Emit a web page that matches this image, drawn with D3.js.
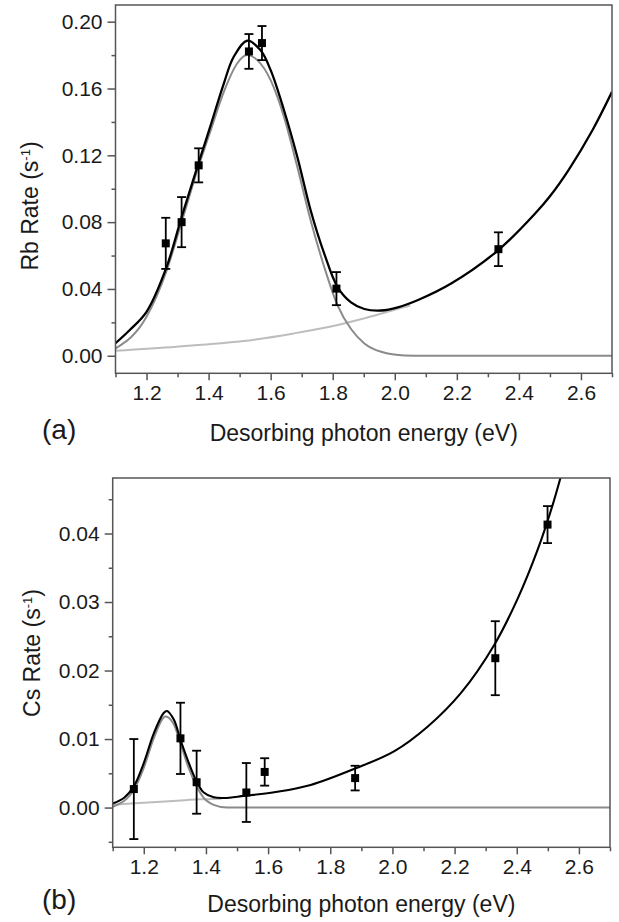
<!DOCTYPE html>
<html><head><meta charset="utf-8">
<script src="https://cdn.jsdelivr.net/npm/d3@7"></script>
<style>
body{margin:0;background:#fff}
svg{display:block}
text{font-family:"Liberation Sans",Arial,Helvetica,sans-serif;fill:#1a1a1a}
</style>
</head><body>
<svg id="c" width="619" height="922"></svg>
<script>
// ---------- Panel (a): Rb ----------
const rbE    = [1.262, 1.313, 1.368, 1.530, 1.572, 1.812, 2.334];
const rbRate = [0.0673, 0.0800, 0.1140, 0.1822, 0.1872, 0.0402, 0.0638];
const rbErr  = [0.0153, 0.0150, 0.0102, 0.0104, 0.0102, 0.0099, 0.0101];

const rbTotalE = [1.10, 1.146, 1.20, 1.263, 1.313, 1.367, 1.405, 1.449, 1.481, 1.524, 1.567, 1.60, 1.643, 1.686, 1.729, 1.773, 1.816, 1.859, 1.902, 1.956, 2.01, 2.075, 2.183, 2.334, 2.453, 2.50, 2.561, 2.637, 2.70];
const rbTotal  = [0.0075, 0.0154, 0.0263, 0.0523, 0.0830, 0.1150, 0.1370, 0.1630, 0.1790, 0.1886, 0.1830, 0.1710, 0.1470, 0.1190, 0.0870, 0.0610, 0.0410, 0.0320, 0.0280, 0.0271, 0.0290, 0.0334, 0.0434, 0.0633, 0.0853, 0.0955, 0.1115, 0.1350, 0.1580];

const rbPeakE = [1.10, 1.20, 1.263, 1.313, 1.367, 1.405, 1.449, 1.492, 1.524, 1.557, 1.60, 1.643, 1.686, 1.729, 1.773, 1.816, 1.859, 1.902, 1.956, 2.032, 2.10, 2.70];
const rbPeak  = [0.0044, 0.0233, 0.0500, 0.0800, 0.1130, 0.1340, 0.1580, 0.1750, 0.1800, 0.1770, 0.1650, 0.1430, 0.1130, 0.0810, 0.0530, 0.0300, 0.0160, 0.0074, 0.0024, 0.0002, 0.0, 0.0];

const rbBgE = [1.10, 1.297, 1.513, 1.675, 1.816, 1.902, 1.989, 2.05];
const rbBg  = [0.0030, 0.0054, 0.0088, 0.0134, 0.0184, 0.0224, 0.0270, 0.0300];

const rbYTicks = [0.00, 0.04, 0.08, 0.12, 0.16, 0.20];
const rbYMinor = [0.02, 0.06, 0.10, 0.14, 0.18];

// ---------- Panel (b): Cs ----------
const csE    = [1.168, 1.318, 1.370, 1.530, 1.589, 1.880, 2.331, 2.499];
const csRate = [0.0027, 0.0101, 0.0037, 0.0022, 0.0052, 0.0043, 0.0218, 0.0413];
const csErr  = [0.0073, 0.0052, 0.0046, 0.0043, 0.0020, 0.0018, 0.0054, 0.0027];

const csTotalE = [1.10, 1.136, 1.168, 1.20, 1.232, 1.264, 1.275, 1.297, 1.318, 1.345, 1.370, 1.393, 1.425, 1.458, 1.522, 1.629, 1.737, 1.880, 2.005, 2.113, 2.220, 2.327, 2.403, 2.467, 2.515, 2.555];
const csTotal  = [0.0006, 0.0014, 0.0031, 0.0065, 0.0108, 0.0138, 0.0141, 0.0128, 0.0099, 0.0065, 0.0038, 0.0022, 0.0015, 0.0014, 0.0017, 0.0023, 0.0033, 0.0057, 0.0082, 0.0118, 0.0167, 0.0237, 0.0305, 0.0376, 0.0441, 0.0505];

const csPeakE = [1.10, 1.168, 1.20, 1.232, 1.270, 1.297, 1.318, 1.345, 1.370, 1.393, 1.425, 1.468, 2.70];
const csPeak  = [0.0001, 0.0026, 0.0058, 0.0101, 0.0133, 0.0121, 0.0094, 0.0057, 0.0031, 0.0014, 0.0004, 0.0, 0.0];

const csBgE = [1.10, 1.20, 1.307, 1.377, 1.45];
const csBg  = [0.0004, 0.0007, 0.0010, 0.0012, 0.0013];

const csYTicks = [0.00, 0.01, 0.02, 0.03, 0.04];
const csYMinor = [-0.005, 0.005, 0.015, 0.025, 0.035, 0.045];

const xTicks = [1.2, 1.4, 1.6, 1.8, 2.0, 2.2, 2.4, 2.6];
const xMinor = [1.1, 1.3, 1.5, 1.7, 1.9, 2.1, 2.3, 2.5, 2.7];

const xTitle = "Desorbing photon energy (eV)";

// ---------- drawing ----------
const svg = d3.select("#c");
const zip = (xs, ys) => xs.map((x, i) => [x, ys[i]]);

function panel(cfg) {
  const x = d3.scaleLinear().domain([1.1, 2.7]).range([cfg.l, cfg.r]);
  const y = d3.scaleLinear().domain(cfg.yDom).range([cfg.b, cfg.t]);
  const g = svg.append("g");
  const clipId = "clip" + cfg.id;
  g.append("clipPath").attr("id", clipId).append("rect")
    .attr("x", cfg.l).attr("y", cfg.t).attr("width", cfg.r - cfg.l).attr("height", cfg.b - cfg.t);

  const lineM = d3.line().x(d => x(d[0])).y(d => y(d[1])).curve(d3.curveMonotoneX);
  const lineC = d3.line().x(d => x(d[0])).y(d => y(d[1])).curve(d3.curveCatmullRom.alpha(0.5));
  const plot = g.append("g").attr("clip-path", `url(#${clipId})`);
  plot.append("path").datum(zip(cfg.bgE, cfg.bg)).attr("d", lineC)
    .attr("fill", "none").attr("stroke", "#bdbdbd").attr("stroke-width", 2);
  plot.append("path").datum(zip(cfg.peakE, cfg.peak)).attr("d", lineM)
    .attr("fill", "none").attr("stroke", "#8a8a8a").attr("stroke-width", 2);
  plot.append("path").datum(zip(cfg.totE, cfg.tot)).attr("d", lineC)
    .attr("fill", "none").attr("stroke", "#000").attr("stroke-width", cfg.lw);

  // error bars + markers
  const pts = cfg.pE.map((e, i) => ({e, v: cfg.pV[i], s: cfg.pS[i]}));
  const eb = g.append("g").attr("stroke", "#000").attr("stroke-width", 1.8);
  pts.forEach(p => {
    const cx = x(p.e), y1 = y(p.v + p.s), y2 = y(p.v - p.s);
    eb.append("line").attr("x1", cx).attr("x2", cx).attr("y1", y1).attr("y2", y2);
    eb.append("line").attr("x1", cx - 4.5).attr("x2", cx + 4.5).attr("y1", y1).attr("y2", y1);
    eb.append("line").attr("x1", cx - 4.5).attr("x2", cx + 4.5).attr("y1", y2).attr("y2", y2);
  });
  g.selectAll("rect.pt").data(pts).enter().append("rect").attr("class", "pt")
    .attr("x", d => x(d.e) - 4).attr("y", d => y(d.v) - 4)
    .attr("width", 8).attr("height", 8).attr("fill", "#000");

  // frame
  g.append("rect").attr("x", cfg.l).attr("y", cfg.t).attr("width", cfg.r - cfg.l).attr("height", cfg.b - cfg.t)
    .attr("fill", "none").attr("stroke", "#555").attr("stroke-width", 1.5);

  // x axis
  const xa = g.append("g").attr("transform", `translate(0,${cfg.b})`)
    .call(d3.axisBottom(x).tickValues(xTicks).tickSize(7).tickPadding(5).tickFormat(d3.format(".1f")));
  xa.select(".domain").remove();
  xa.selectAll(".tick line").attr("stroke", "#555").attr("stroke-width", 1.5);
  xa.selectAll("text").attr("font-size", 21).attr("fill", "#1a1a1a").attr("font-family", null);
  const xm = g.append("g").attr("transform", `translate(0,${cfg.b})`)
    .call(d3.axisBottom(x).tickValues(xMinor).tickSize(4).tickFormat(""));
  xm.select(".domain").remove();
  xm.selectAll(".tick line").attr("stroke", "#555").attr("stroke-width", 1.5);

  // y axis
  const ya = g.append("g").attr("transform", `translate(${cfg.l},0)`)
    .call(d3.axisLeft(y).tickValues(cfg.yTicks).tickSize(8).tickPadding(5).tickFormat(d3.format(".2f")));
  ya.select(".domain").remove();
  ya.selectAll(".tick line").attr("stroke", "#555").attr("stroke-width", 1.5);
  ya.selectAll("text").attr("font-size", 21).attr("fill", "#1a1a1a").attr("font-family", null);
  const ym = g.append("g").attr("transform", `translate(${cfg.l},0)`)
    .call(d3.axisLeft(y).tickValues(cfg.yMinor).tickSize(4).tickFormat(""));
  ym.select(".domain").remove();
  ym.selectAll(".tick line").attr("stroke", "#555").attr("stroke-width", 1.5);

  // titles
  g.append("text").attr("x", (cfg.l + cfg.r) / 2).attr("y", cfg.xTitleY)
    .attr("text-anchor", "middle").attr("font-size", 23).text(xTitle);
  const yt = g.append("text").attr("transform", `translate(${cfg.yTitleX},${cfg.yTitleY}) rotate(-90)`)
    .attr("text-anchor", "middle").attr("font-size", 23);
  yt.append("tspan").text(cfg.yName + " Rate (s");
  yt.append("tspan").attr("dy", -8).attr("font-size", 13).text("-1");
  yt.append("tspan").attr("dy", 8).text(")");
  g.append("text").attr("x", 42).attr("y", cfg.tagY).attr("font-size", 28).text(cfg.tag);
}

panel({id: "a", l: 115.5, r: 612, t: 5, b: 373.3, yDom: [-0.0105, 0.2100],
  yTicks: rbYTicks, yMinor: rbYMinor, lw: 2.3,
  pE: rbE, pV: rbRate, pS: rbErr,
  totE: rbTotalE, tot: rbTotal, peakE: rbPeakE, peak: rbPeak, bgE: rbBgE, bg: rbBg,
  xTitleY: 441, yTitleX: 38, yTitleY: 206, yName: "Rb", tag: "(a)", tagY: 439});

panel({id: "b", l: 112.7, r: 610, t: 478, b: 847.3, yDom: [-0.0058, 0.0481],
  yTicks: csYTicks, yMinor: csYMinor, lw: 2.1,
  pE: csE, pV: csRate, pS: csErr,
  totE: csTotalE, tot: csTotal, peakE: csPeakE, peak: csPeak, bgE: csBgE, bg: csBg,
  xTitleY: 912, yTitleX: 40, yTitleY: 653, yName: "Cs", tag: "(b)", tagY: 909});
</script>
</body></html>
